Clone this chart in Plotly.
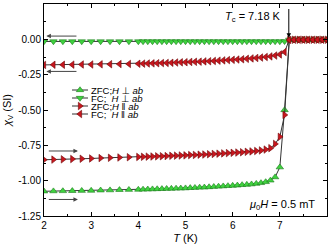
import plotly.graph_objects as go

T = [2.0, 2.2, 2.4, 2.6, 2.8, 3.0, 3.2, 3.4, 3.6, 3.8,
     4.0, 4.1, 4.2, 4.3, 4.4, 4.5, 4.6, 4.7, 4.8, 4.9,
     5.0, 5.1, 5.2, 5.3, 5.4, 5.5, 5.6, 5.7, 5.8, 5.9,
     6.0, 6.1, 6.2, 6.3, 6.4, 6.5, 6.6, 6.7, 6.8, 6.9,
     7.0, 7.1, 7.2, 7.3, 7.4, 7.5, 7.6, 7.7, 7.8, 7.9, 8.0]

zfc_perp = [-1.075, -1.074, -1.073, -1.072, -1.071, -1.070, -1.068, -1.067, -1.065, -1.064,
            -1.063, -1.062, -1.061, -1.060, -1.059, -1.058, -1.057, -1.056, -1.055, -1.054,
            -1.053, -1.051, -1.050, -1.048, -1.047, -1.045, -1.043, -1.041, -1.039, -1.037,
            -1.035, -1.033, -1.030, -1.028, -1.025, -1.021, -1.016, -1.009, -0.998, -0.975,
            -0.905, -0.500, -0.004, -0.003, -0.003, -0.003, -0.003, -0.003, -0.003, -0.003, -0.003]

fc_perp = [-0.015, -0.015, -0.015, -0.015, -0.015, -0.015, -0.015, -0.015, -0.015, -0.015,
           -0.015, -0.015, -0.015, -0.015, -0.015, -0.015, -0.015, -0.015, -0.015, -0.015,
           -0.015, -0.015, -0.015, -0.015, -0.015, -0.015, -0.015, -0.015, -0.015, -0.015,
           -0.015, -0.015, -0.015, -0.015, -0.015, -0.015, -0.015, -0.015, -0.015, -0.015,
           -0.015, -0.014, -0.003, -0.003, -0.003, -0.003, -0.003, -0.003, -0.003, -0.003, -0.003]

zfc_par = [-0.852, -0.851, -0.849, -0.847, -0.845, -0.843, -0.840, -0.838, -0.836, -0.834,
           -0.832, -0.831, -0.830, -0.829, -0.828, -0.827, -0.826, -0.824, -0.823, -0.822,
           -0.821, -0.819, -0.818, -0.816, -0.815, -0.813, -0.811, -0.809, -0.807, -0.805,
           -0.803, -0.801, -0.799, -0.796, -0.793, -0.790, -0.786, -0.780, -0.770, -0.740,
           -0.690, -0.535, -0.004, -0.003, -0.003, -0.003, -0.003, -0.003, -0.003, -0.003, -0.003]

fc_par = [-0.181, -0.180, -0.180, -0.179, -0.178, -0.178, -0.177, -0.176, -0.175, -0.174,
          -0.173, -0.172, -0.171, -0.170, -0.169, -0.168, -0.167, -0.166, -0.164, -0.163,
          -0.162, -0.160, -0.159, -0.158, -0.156, -0.155, -0.153, -0.151, -0.149, -0.147,
          -0.145, -0.143, -0.141, -0.138, -0.135, -0.132, -0.129, -0.125, -0.121, -0.115,
          -0.107, -0.090, -0.004, -0.003, -0.003, -0.003, -0.003, -0.003, -0.003, -0.003, -0.003]

PERP = "\u22a5"
PAR = "\u2016"
legend_labels = ["ZFC;<i>H</i> " + PERP + " <i>ab</i>",
                 "FC;\u00a0\u00a0<i>H</i> " + PERP + " <i>ab</i>",
                 "ZFC;<i>H</i> " + PAR + " <i>ab</i>",
                 "FC;\u00a0\u00a0<i>H</i> " + PAR + " <i>ab</i>"]

x_ticks = [2, 3, 4, 5, 6, 7, 8]
y_ticks = [0.25, 0.0, -0.25, -0.5, -0.75, -1.0, -1.25]
y_ticklabels = ["0.25", "0.00", "-0.25", "-0.50", "-0.75", "-1.00", "-1.25"]

GREEN = "#3fd23f"
GREEN_EDGE = "#1c7a1c"
RED = "#c8161e"
RED_EDGE = "#700808"
LINE = "#333333"
FONT = "Arial, Liberation Sans, DejaVu Sans, sans-serif"

styles = [
    (zfc_perp, "triangle-up", GREEN, GREEN_EDGE),
    (fc_perp, "triangle-down", GREEN, GREEN_EDGE),
    (zfc_par, "triangle-right", RED, RED_EDGE),
    (fc_par, "triangle-left", RED, RED_EDGE),
]

fig = go.Figure()
for vals, sym, col, edge in styles:
    fig.add_trace(go.Scatter(
        x=T, y=vals, mode="lines+markers",
        line=dict(color=LINE, width=1),
        marker=dict(symbol=sym, size=6.5, color=col, line=dict(color=edge, width=0.6)),
        showlegend=False, hoverinfo="skip"))

# manual compact legend (plot-pixel coordinates on hidden overlay axes)
leg_rows = [86, 94, 102, 110]
for (vals, sym, col, edge), yy, lab in zip(styles, leg_rows, legend_labels):
    fig.add_trace(go.Scatter(
        x=[28, 44], y=[yy, yy], mode="lines", line=dict(color=LINE, width=1),
        xaxis="x2", yaxis="y2", showlegend=False, hoverinfo="skip"))
    fig.add_trace(go.Scatter(
        x=[36], y=[yy], mode="markers",
        marker=dict(symbol=sym, size=6.5, color=col, line=dict(color=edge, width=0.6)),
        xaxis="x2", yaxis="y2", showlegend=False, hoverinfo="skip"))
    fig.add_annotation(x=45, y=yy, xref="x2", yref="y2", text=lab, showarrow=False,
                       xanchor="left", yanchor="middle",
                       font=dict(family=FONT, size=9.5, color="black"))

# direction arrows
arrow_specs = [
    (2.05, 0.023, 2.72, 0.023),
    (2.05, -0.227, 2.72, -0.227),
    (2.72, -0.79, 2.07, -0.79),
    (2.72, -1.133, 2.07, -1.133),
]
for x, y, ax, ay in arrow_specs:
    fig.add_annotation(x=x, y=y, ax=ax, ay=ay, xref="x", yref="y", axref="x", ayref="y",
                       text="", showarrow=True, arrowhead=2, arrowsize=0.9,
                       arrowwidth=1, arrowcolor="#444444")

# Tc arrow and labels
fig.add_annotation(x=7.19, y=0.012, ax=7.19, ay=0.225, xref="x", yref="y", axref="x", ayref="y",
                   text="", showarrow=True, arrowhead=2, arrowsize=0.9,
                   arrowwidth=1, arrowcolor="black")
fig.add_annotation(x=6.43, y=0.155, xref="x", yref="y", showarrow=False,
                   text="<i>T</i><sub>c</sub> = 7.18 K",
                   font=dict(family=FONT, size=11, color="black"))
fig.add_annotation(x=7.05, y=-1.175, xref="x", yref="y", showarrow=False,
                   text="<i>\u03bc</i><sub>0</sub><i>H</i> = 0.5 mT",
                   font=dict(family=FONT, size=11, color="black"))

axis_common = dict(showline=True, linecolor="black", linewidth=1, mirror="allticks",
                   ticks="inside", ticklen=4, tickwidth=1, tickcolor="black",
                   showgrid=False, zeroline=False, automargin=False,
                   tickfont=dict(family=FONT, size=10, color="black"))

fig.update_layout(
    width=330, height=251,
    margin=dict(l=44, r=3, t=4, b=35),
    paper_bgcolor="white", plot_bgcolor="white",
    font=dict(family=FONT, color="black"),
    xaxis=dict(range=[2, 8], tickvals=x_ticks, ticktext=[str(v) for v in x_ticks],
               minor=dict(dtick=0.5, tick0=2, ticks="inside", ticklen=2, tickcolor="black"),
               title=dict(text="<i>T</i> (K)", font=dict(family=FONT, size=11), standoff=4),
               **axis_common),
    yaxis=dict(range=[-1.25, 0.25], tickvals=y_ticks, ticktext=y_ticklabels,
               minor=dict(dtick=0.125, tick0=0, ticks="inside", ticklen=2, tickcolor="black"),
               title=dict(text="<i>\u03c7</i><sub>V</sub> (SI)", font=dict(family=FONT, size=11), standoff=4),
               **axis_common),
    xaxis2=dict(range=[0, 283], overlaying="x", visible=False, fixedrange=True),
    yaxis2=dict(range=[212, 0], overlaying="y", visible=False, fixedrange=True),
)

fig.write_html("out.html", config={"displayModeBar": False},
               post_script="document.body.style.margin='0';")
